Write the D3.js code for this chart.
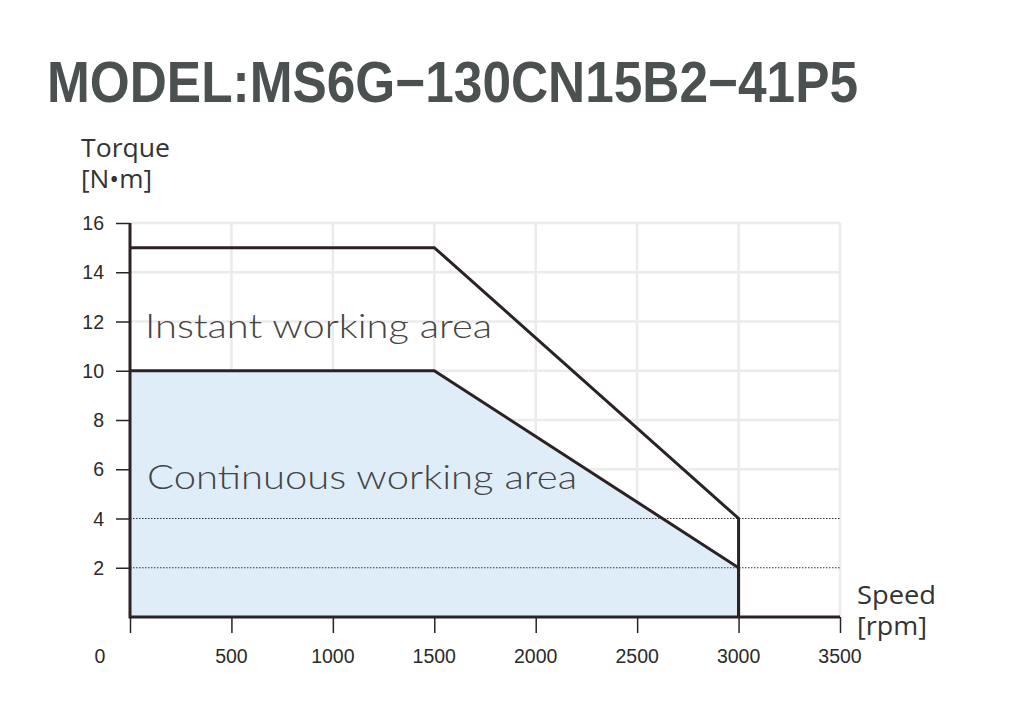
<!DOCTYPE html>
<html><head><meta charset="utf-8">
<script src="https://cdn.jsdelivr.net/npm/d3@7"></script>
<style>body{margin:0;background:#fff}svg{display:block}</style>
</head><body><svg id="c" width="1022" height="702"></svg>
<script>
const title = "MODEL:MS6G\u2212130CN15B2\u221241P5";
const xTicks = [500, 1000, 1500, 2000, 2500, 3000, 3500];
const yTicks = [2, 4, 6, 8, 10, 12, 14, 16];
const dottedLevels = [2, 4];
const instantSpeed = [0, 1500, 3000, 3000];
const instantTorque = [15, 15, 4, 0];
const continuousSpeed = [0, 0, 1500, 3000, 3000];
const continuousTorque = [0, 10, 10, 2, 0];
const areaLabels = ["Instant working area", "Continuous working area"];

const svg = d3.select("#c");
const x = d3.scaleLinear().domain([0, 3500]).range([130, 840]);
const y = d3.scaleLinear().domain([0, 16]).range([617, 223]);
const dark = "#2b2323";

svg.append("text").attr("x", 47).attr("y", 102).text(title)
  .attr("font-family", "Liberation Sans, Arial, sans-serif").attr("font-weight", "bold")
  .attr("font-size", 57).attr("fill", "#4b5050")
  .attr("textLength", 811).attr("lengthAdjust", "spacingAndGlyphs");

// grid
const g = svg.append("g");
g.selectAll(".vg").data(xTicks).join("line")
  .attr("x1", d => x(d)).attr("x2", d => x(d)).attr("y1", y(16)).attr("y2", y(0))
  .attr("stroke", "#ebebeb").attr("stroke-width", 2.5);
g.selectAll(".hg").data(yTicks.filter(d => !dottedLevels.includes(d))).join("line")
  .attr("x1", x(0)).attr("x2", x(3500)).attr("y1", d => y(d)).attr("y2", d => y(d))
  .attr("stroke", "#ebebeb").attr("stroke-width", 2.5);

// continuous fill
const cPts = continuousSpeed.map((s, i) => [x(s), y(continuousTorque[i])]);
svg.append("path").attr("d", d3.line()(cPts) + "Z").attr("fill", "#dfedf9");

// dotted lines
svg.selectAll(".dl").data(dottedLevels).join("line")
  .attr("x1", x(0)).attr("x2", x(3500)).attr("y1", d => y(d)).attr("y2", d => y(d))
  .attr("stroke", "#333").attr("stroke-width", 1.2).attr("stroke-dasharray", "1.5,1.5");

// curves
svg.append("path").attr("d", d3.line()(continuousSpeed.slice(1).map((s, i) => [x(s), y(continuousTorque[i + 1])])))
  .attr("fill", "none").attr("stroke", dark).attr("stroke-width", 3);
svg.append("path").attr("d", d3.line()(instantSpeed.map((s, i) => [x(s), y(instantTorque[i])])))
  .attr("fill", "none").attr("stroke", dark).attr("stroke-width", 3);

// axes
const xAxis = svg.append("g").attr("transform", `translate(0,${y(0)})`)
  .call(d3.axisBottom(x).tickValues([0, ...xTicks]).tickSize(16).tickFormat(""));
xAxis.select(".domain").remove();
xAxis.selectAll("line").attr("stroke", dark).attr("stroke-width", 1.5);
const yAxis = svg.append("g").attr("transform", `translate(${x(0)},0)`)
  .call(d3.axisLeft(y).tickValues(yTicks).tickSize(14).tickFormat(""));
yAxis.select(".domain").remove();
yAxis.selectAll("line").attr("stroke", dark).attr("stroke-width", 1.5);

svg.append("line").attr("x1", x(0)).attr("x2", x(3500)).attr("y1", y(0)).attr("y2", y(0))
  .attr("stroke", dark).attr("stroke-width", 3);
svg.append("line").attr("x1", x(0)).attr("x2", x(0)).attr("y1", y(16)).attr("y2", y(0) + 1.5)
  .attr("stroke", dark).attr("stroke-width", 3);

const lf = "Liberation Sans, Arial, sans-serif";
svg.selectAll(".xl").data(xTicks).join("text")
  .attr("x", d => x(d)).attr("y", 663).attr("text-anchor", "middle").text(d => d)
  .attr("font-family", lf).attr("font-size", 19.5).attr("fill", "#2a2a2a");
svg.append("text").attr("x", 100).attr("y", 663).attr("text-anchor", "middle").text("0")
  .attr("font-family", lf).attr("font-size", 19.5).attr("fill", "#2a2a2a");
svg.selectAll(".yl").data(yTicks).join("text")
  .attr("x", 104).attr("y", d => y(d) + 7).attr("text-anchor", "end").text(d => d)
  .attr("font-family", lf).attr("font-size", 19.5).attr("fill", "#2a2a2a");

const of = "Open Sans, Noto Sans, sans-serif";
[["Torque", 81, 157, 89], ["[N\u2022m]", 81, 188, 71], ["Speed", 857, 604, 79], ["[rpm]", 857, 635, 70]].forEach(t => {
  svg.append("text").attr("x", t[1]).attr("y", t[2]).text(t[0])
    .attr("font-family", of).attr("font-size", 26).attr("fill", "#333")
    .attr("textLength", t[3]).attr("lengthAdjust", "spacingAndGlyphs");
});
svg.selectAll(".al").data(areaLabels).join("text")
  .attr("x", (d, i) => i === 0 ? 145 : 147).attr("y", (d, i) => i === 0 ? 338 : 489)
  .attr("textLength", (d, i) => i === 0 ? 347 : 430).attr("lengthAdjust", "spacingAndGlyphs")
  .text(d => d).attr("font-family", "Lato, Open Sans, sans-serif").attr("font-weight", 300).attr("font-size", 34).attr("fill", "#444");
</script></body></html>
